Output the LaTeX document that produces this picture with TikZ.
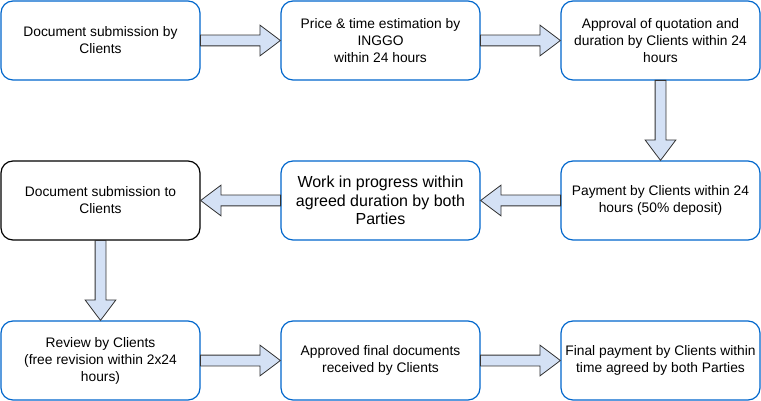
\documentclass[tikz,border=0pt]{standalone}
\usepackage{fontspec}
\setmainfont{Liberation Sans}
\usepackage{xcolor}
\usetikzlibrary{positioning, shapes.arrows}
\definecolor{boxblue}{RGB}{0,102,204}
\definecolor{arrowfill}{RGB}{212,225,245}

\begin{document}
\begin{tikzpicture}[
        x=1pt, y=1pt,
        stepbox/.style={draw=boxblue, line width=1.2pt, outer sep=0pt, rounded corners=12pt, minimum width=199pt, minimum height=79pt, align=center, font=\fontsize{13.8}{17}\selectfont},
        stepdone/.style={stepbox, draw=black},
        fatarrow/.style={single arrow, draw=black!80, fill=arrowfill, line width=0.8pt, inner sep=5pt, minimum height=80pt, single arrow head extend=10pt, single arrow tip angle=74, pos=0, anchor=tail},
        node distance=81pt and 81pt
      ]
        \useasboundingbox (0,0) rectangle (761,-401);

        % Top row
        \node[stepbox] (submit) at (100.5,-40.5) {Document submission by\\Clients};
        \node[stepbox, right=of submit] (estimate) {Price \& time estimation by\\INGGO\\within 24 hours};
        \node[stepbox, right=of estimate] (approve) {Approval of quotation and\\duration by Clients within 24\\hours};

        % Middle row
        \node[stepbox, below=of approve] (payment) {Payment by Clients within 24\\hours (50\% deposit)};
        \node[stepbox, left=of payment, font=\fontsize{16}{18.5}\selectfont] (work) {Work in progress within\\agreed duration by both\\Parties};
        \node[stepdone, left=of work] (deliver) {Document submission to\\Clients};

        % Bottom row
        \node[stepbox, below=of deliver] (review) {Review by Clients\\(free revision within 2x24\\hours)};
        \node[stepbox, right=of review] (final) {Approved final documents\\received by Clients};
        \node[stepbox, right=of final] (lastpay) {Final payment by Clients within\\time agreed by both Parties};

        % Arrows
        \path (submit.east) -- (estimate.west) node[fatarrow] {};
        \path (estimate.east) -- (approve.west) node[fatarrow] {};
        \path (approve.south) -- (payment.north) node[fatarrow, shape border rotate=270] {};
        \path (payment.west) -- (work.east) node[fatarrow, shape border rotate=180] {};
        \path (work.west) -- (deliver.east) node[fatarrow, shape border rotate=180] {};
        \path (deliver.south) -- (review.north) node[fatarrow, shape border rotate=270] {};
        \path (review.east) -- (final.west) node[fatarrow] {};
        \path (final.east) -- (lastpay.west) node[fatarrow] {};
    \end{tikzpicture}
\end{document}
